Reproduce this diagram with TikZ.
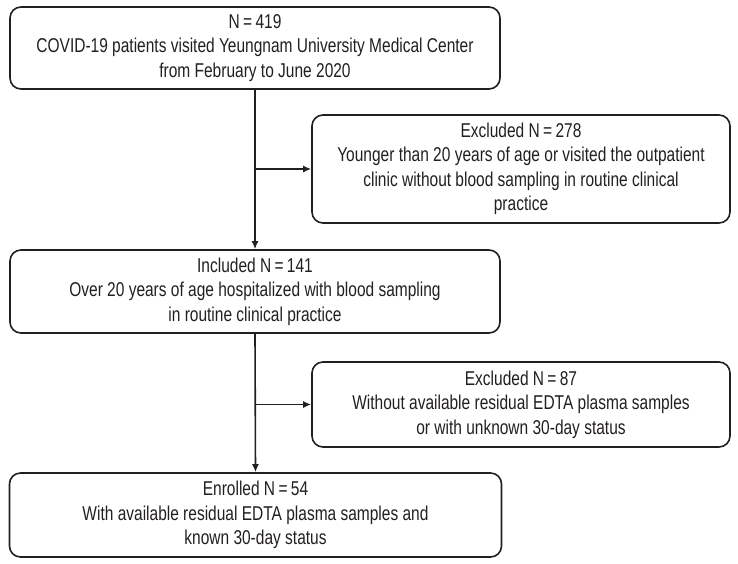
\documentclass[tikz,border=0pt]{standalone}
\usepackage{fontspec}
\setmainfont[FakeStretch=0.775]{Liberation Sans}
\usetikzlibrary{arrows.meta}
\definecolor{ink}{HTML}{231F20}
\begin{document}
\begin{tikzpicture}[x=1pt,y=-1pt,
  box/.style={draw=ink,line width=1.6pt,rounded corners=11pt,align=center,
    inner sep=0pt,text=ink,font=\fontsize{20}{24.5}\selectfont},
  conn/.style={draw=ink,line width=1.6pt},
  arr/.style={conn,-{Latex[length=8pt,width=7pt]}}]
\useasboundingbox (0,0) rectangle (738,563);
\node[box,minimum width=490pt,minimum height=82pt] (b1) at (255,48)
  {N\,=\,419\\COVID-19 patients visited Yeungnam University Medical Center\\from February to June 2020};
\node[box,minimum width=418pt,minimum height=108pt] (b2) at (521,169)
  {Excluded N\,=\,278\\Younger than 20 years of age or visited the outpatient\\clinic without blood sampling in routine clinical\\practice};
\node[box,minimum width=490pt,minimum height=83pt] (b3) at (255,291.5)
  {Included N\,=\,141\\Over 20 years of age hospitalized with blood sampling\\in routine clinical practice};
\node[box,minimum width=418pt,minimum height=85pt] (b4) at (521,404.5)
  {Excluded N\,=\,87\\Without available residual EDTA plasma samples\\or with unknown 30-day status};
\node[box,minimum width=492pt,minimum height=84pt] (b5) at (255.5,515)
  {Enrolled N\,=\,54\\With available residual EDTA plasma samples and\\known 30-day status};
\coordinate (j1) at (b1.south |- b2.west);
\coordinate (j2) at (b3.south |- b4.west);
\draw[arr] (b1.south) -- (b3.north);
\draw[arr] (j1) -- (b2.west);
\draw[arr] (b3.south) -- (b5.north);
\draw[arr] (j2) -- (b4.west);
\end{tikzpicture}
\end{document}
